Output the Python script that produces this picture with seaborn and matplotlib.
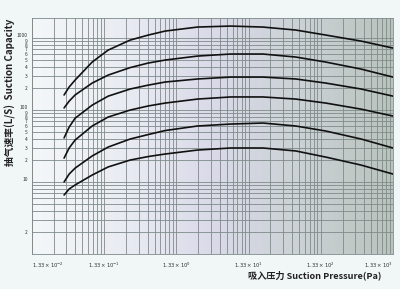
import numpy as np
import pandas as pd
import matplotlib
matplotlib.use("Agg")
import matplotlib.pyplot as plt
import seaborn as sns
from matplotlib.ticker import FixedLocator, FixedFormatter
from matplotlib.colors import LinearSegmentedColormap

# ---- data ----
pressure = [0.037, 0.0435, 0.0526, 0.0906, 0.151, 0.305, 0.543, 0.93, 2.6, 7.5, 21, 60, 156, 480, 1330]
curve_1 = [162, 209, 261, 464, 681, 938, 1101, 1251, 1422, 1468, 1422, 1292, 1101, 908, 726]
curve_2 = [107, 133, 162, 237, 306, 389, 450, 495, 562, 600, 600, 545, 464, 371, 287]
curve_3 = [41, 58, 77, 117, 156, 196, 222, 245, 270, 287, 287, 270, 237, 196, 156]
curve_4 = [21.5, 29.7, 38.3, 60, 80, 100, 114, 125, 142, 152, 152, 142, 125, 103, 82.5]
curve_5 = [10, 12.9, 15.6, 23, 30.6, 39.6, 45.7, 51.9, 60, 63.9, 66, 60, 51.1, 39.6, 29.7]
curve_6 = [6.6, 8.0, 9.1, 12.5, 16.2, 20.2, 22.6, 24.5, 27.8, 29.7, 29.7, 27, 22.2, 17.2, 12.9]
curve_names = ["c1", "c2", "c3", "c4", "c5", "c6"]

x_tick_labels = [r"$1.33\times10^{-2}$", r"$1.33\times10^{-1}$", r"$1.33\times10^{0}$",
                 r"$1.33\times10^{1}$", r"$1.33\times10^{2}$", r"$1.33\times10^{3}$"]
y_major_labels = ["", "10", "100", "1000"]
y_minor_digits = ["2", "3", "4", "5", "6", "7", "8", "9"]

x_title = "吸入压力 Suction Pressure(Pa)"
y_title = "抽气速率(L/S)  Suction Capacity"

rows = []
for name, vals in zip(curve_names, [curve_1, curve_2, curve_3, curve_4, curve_5, curve_6]):
    for p, v in zip(pressure, vals):
        rows.append({"pressure": p, "capacity": v, "curve": name})
df = pd.DataFrame(rows)

sns.set_style("white")
plt.rcParams["font.family"] = ["Noto Sans CJK SC", "DejaVu Sans"]
plt.rcParams["mathtext.fontset"] = "dejavusans"

W, H = 400, 289
fig = plt.figure(figsize=(W / 100, H / 100), dpi=100)
fig.patch.set_facecolor("#f1f6f7")

L, R, T, B = 32, 393, 18, 254
pos = [L / W, 1 - B / H, (R - L) / W, (B - T) / H]

# background gradient axes
bg = fig.add_axes(pos, zorder=0)
cmap = LinearSegmentedColormap.from_list(
    "paper",
    [(0.0, "#f4f7f8"), (0.25, "#eaecf3"), (0.5, "#dadae9"),
     (0.75, "#cbd1d4"), (1.0, "#b9c3bd")])
grad = np.linspace(0, 1, 256).reshape(1, -1)
bg.imshow(grad, cmap=cmap, aspect="auto", extent=[0, 1, 0, 1])
bg.set_axis_off()

ax = fig.add_axes(pos, zorder=1)
ax.set_facecolor("none")
ax.set_xscale("log")
ax.set_yscale("log")

sns.lineplot(data=df, x="pressure", y="capacity", hue="curve",
             palette=["#111111"] * 6, legend=False, ax=ax,
             estimator=None, sort=False, linewidth=1.2, zorder=3)

xmaj = [1.33 * 10.0 ** k for k in range(-2, 4)]
xmin = [m * 1.33 * 10.0 ** k for k in range(-2, 3) for m in range(2, 10)]
ax.set_xlim(xmaj[0], xmaj[-1])
ax.set_ylim(1, 1900)

ax.xaxis.set_major_locator(FixedLocator(xmaj))
ax.xaxis.set_major_formatter(FixedFormatter(x_tick_labels))
ax.xaxis.set_minor_locator(FixedLocator(xmin))
ax.xaxis.set_minor_formatter(FixedFormatter([""] * len(xmin)))

ymaj = [1, 10, 100, 1000]
ymin = [m * 10.0 ** k for k in range(0, 3) for m in range(2, 10)]
ymin_labels = ["2"] + [""] * 7 + y_minor_digits + y_minor_digits
ax.yaxis.set_major_locator(FixedLocator(ymaj))
ax.yaxis.set_major_formatter(FixedFormatter(y_major_labels))
ax.yaxis.set_minor_locator(FixedLocator(ymin))
ax.yaxis.set_minor_formatter(FixedFormatter(ymin_labels))

ax.grid(True, which="both", color="#7f8a8a", linewidth=0.6)
ax.tick_params(axis="both", which="both", length=0, colors="#333333")
ax.tick_params(axis="x", which="major", labelsize=3.8, pad=5)
ax.tick_params(axis="y", which="both", labelsize=3.5, pad=3)
ax.set_xlabel("")
ax.set_ylabel("")
for s in ax.spines.values():
    s.set_color("#7f8a8a")
    s.set_linewidth(0.6)

fig.canvas.draw()
xl = ax.get_xticklabels()
xl[0].set_ha("left")
xl[-1].set_ha("right")
for lbl in ax.get_yticklabels():
    lbl.set_va("bottom")

fig.text(10 / W, 1 - 92 / H, y_title, rotation=90, ha="center", va="center",
         fontsize=7, fontweight="bold", color="#222222")
fig.text(315 / W, 1 - 275 / H, x_title, ha="center", va="center",
         fontsize=6.6, fontweight="bold", color="#222222")

fig.savefig("out.png", dpi=100, facecolor=fig.get_facecolor())
